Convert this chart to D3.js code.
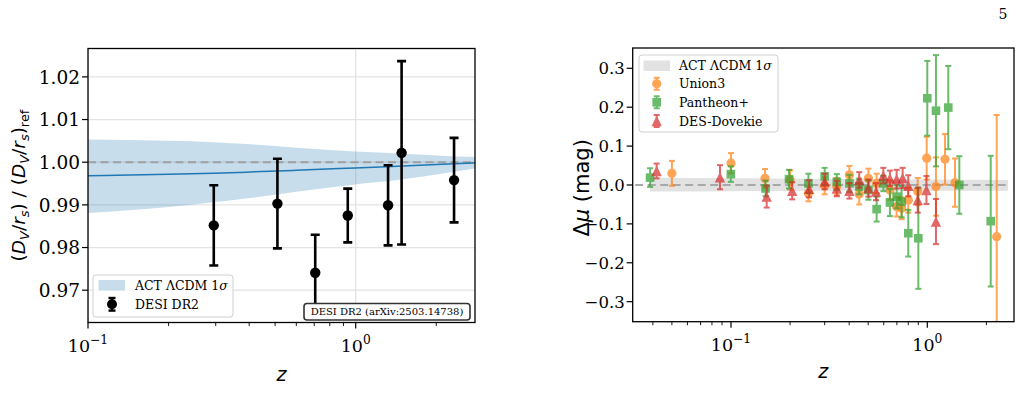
<!DOCTYPE html>
<html><head><meta charset="utf-8">
<script src="https://cdn.jsdelivr.net/npm/d3@7"></script>
<style>body{margin:0;background:#fff}svg{display:block}text{font-family:"DejaVu Serif";fill:#000}</style>
</head><body><svg id="c" width="1027" height="410"></svg>
<script>
// ---------- Left panel data (DESI DR2 BAO) ----------
const desiZ   = [0.295, 0.510, 0.706, 0.934, 1.321, 1.484, 2.330];
const desiVal = [0.9852, 0.9903, 0.9741, 0.9875, 0.9899, 1.0022, 0.9958];
const desiErr = [0.0094, 0.0105, 0.0089, 0.0063, 0.0094, 0.0215, 0.0099];
// ACT LCDM 1 sigma band (ratio)
const actZ    = [0.10, 0.20, 0.294, 0.403, 0.60, 0.994, 1.50, 2.00, 2.79];
const actMean = [0.99680, 0.99716, 0.99743, 0.99770, 0.99810, 0.99865, 0.99912, 0.99944, 0.99982];
const actLo   = [0.9881, 0.9895, 0.9906, 0.9916, 0.9931, 0.9948, 0.9960, 0.9971, 0.9985];
const actHi   = [1.0053, 1.0050, 1.0047, 1.0042, 1.0034, 1.0025, 1.0020, 1.0016, 1.0012];
const leftYTicks = [0.97, 0.98, 0.99, 1.00, 1.01, 1.02];
const leftXMajor = [0.1, 1];

// ---------- Right panel data (SN Hubble residuals) ----------
const u3Z   = [0.050, 0.100, 0.149, 0.200, 0.248, 0.300, 0.346, 0.401, 0.450, 0.501, 0.552, 0.645, 0.698, 0.740, 0.800, 0.894, 0.993, 1.107, 1.231, 1.384, 2.257];
const u3Mu  = [0.030, 0.056, 0.017, 0.013, -0.022, -0.002, -0.004, 0.026, -0.023, 0.017, 0.004, -0.013, -0.056, -0.060, -0.039, -0.017, 0.069, -0.004, 0.066, 0.006, -0.133];
const u3Err = [0.032, 0.026, 0.024, 0.025, 0.020, 0.022, 0.022, 0.023, 0.027, 0.025, 0.025, 0.025, 0.025, 0.028, 0.032, 0.035, 0.055, 0.075, 0.065, 0.062, 0.313];

const ppZ   = [0.0387, 0.0998, 0.150, 0.1975, 0.248, 0.300, 0.346, 0.401, 0.450, 0.501, 0.552, 0.597, 0.645, 0.698, 0.740, 0.800, 0.900, 1.000, 1.107, 1.279, 1.456, 2.104];
const ppMu  = [0.019, 0.028, -0.009, 0.015, 0.004, 0.022, 0.008, 0.004, -0.004, -0.013, -0.062, 0.004, -0.045, -0.030, -0.043, -0.124, -0.137, 0.223, 0.191, 0.199, 0.000, -0.093];
const ppErr = [0.024, 0.020, 0.020, 0.024, 0.025, 0.022, 0.020, 0.022, 0.020, 0.025, 0.032, 0.020, 0.035, 0.030, 0.040, 0.060, 0.130, 0.096, 0.143, 0.107, 0.074, 0.168];

const ddZ   = [0.0418, 0.0879, 0.152, 0.205, 0.250, 0.300, 0.346, 0.401, 0.450, 0.501, 0.548, 0.597, 0.645, 0.698, 0.749, 0.800, 0.894, 0.990, 1.107];
const ddMu  = [0.036, 0.020, -0.030, -0.015, -0.010, 0.009, -0.009, -0.015, 0.013, -0.008, -0.017, 0.024, 0.017, 0.015, 0.018, -0.002, -0.039, -0.013, -0.094];
const ddErr = [0.019, 0.031, 0.028, 0.022, 0.022, 0.020, 0.020, 0.020, 0.020, 0.022, 0.022, 0.020, 0.020, 0.024, 0.026, 0.027, 0.032, 0.036, 0.058];

const actSnZ  = [0.0387, 0.10, 0.50, 1.00, 2.58];
const actSnLo = [-0.017, -0.016, -0.015, -0.015, -0.015];
const actSnHi = [0.019, 0.017, 0.015, 0.014, 0.013];
const refLineZ = [0.0325, 2.58];
const rightYTicks = [-0.3, -0.2, -0.1, 0.0, 0.1, 0.2, 0.3];
const rightXMajor = [0.1, 1];

// ---------- helpers ----------
const svg = d3.select("#c");
const FS_YTICK_L = 18.5, FS_YTICK_R = 16.5, FS_XTICK = 17.5, FS_LEG = 12.5, FS_LAB = 18.5;
const C_BLUE = "#1f77b4", C_OR = "#ff7f0e", C_GR = "#2ca02c", C_RD = "#d62728";

function mathText(g, parts, fs) {
  let shift = 0;
  parts.forEach(([t, st]) => {
    const sp = g.append("tspan").text(t);
    let target = 0, size = fs;
    if (st === "s" || st === "S") { target = fs * 0.22; size = fs * 0.7; }
    if (st === "^") { target = -fs * 0.42; size = fs * 0.7; }
    sp.attr("font-size", size).attr("dy", target - shift);
    shift = target;
    if (st === "i" || st === "s") sp.attr("font-style", "italic");
  });
}

function logTicks(g, x, P, majors, fs) {
  const all = x.ticks();
  all.forEach(v => {
    const isMaj = majors.some(m => Math.abs(m - v) / m < 1e-6);
    const px = x(v);
    if (px < P.x0 - 0.5 || px > P.x1 + 0.5) return;
    g.append("line").attr("x1", px).attr("x2", px).attr("y1", P.y1).attr("y2", P.y1 + (isMaj ? 6 : 3.5))
      .attr("stroke", "#000").attr("stroke-width", isMaj ? 1.2 : 0.9);
    if (isMaj) {
      const e = Math.round(Math.log10(v));
      const t = g.append("text").attr("x", px).attr("y", P.y1 + 29).attr("text-anchor", "middle").attr("font-size", fs);
      t.append("tspan").text("10");
      t.append("tspan").text(e < 0 ? "\u2212" + (-e) : "" + e).attr("font-size", fs * 0.7).attr("dy", -fs * 0.45);
    }
  });
}

function yTicks(g, y, P, ticks, fmt, fs) {
  ticks.forEach(v => {
    const py = y(v);
    g.append("line").attr("x1", P.x0 - 6).attr("x2", P.x0).attr("y1", py).attr("y2", py).attr("stroke", "#000").attr("stroke-width", 1.2);
    g.append("text").attr("x", P.x0 - 8).attr("y", py).attr("dy", "0.36em").attr("text-anchor", "end").attr("font-size", fs).text(fmt(v));
  });
}

function marker(g, type, cx, cy, color, op) {
  if (type === "o") g.append("circle").attr("cx", cx).attr("cy", cy).attr("r", 4.6).attr("fill", color).attr("fill-opacity", op);
  else if (type === "s") g.append("rect").attr("x", cx - 4.3).attr("y", cy - 4.3).attr("width", 8.6).attr("height", 8.6).attr("fill", color).attr("fill-opacity", op);
  else if (type === "^") g.append("path").attr("d", `M${cx},${cy - 5.2}L${cx + 5.2},${cy + 5.2}L${cx - 5.2},${cy + 5.2}Z`).attr("fill", color).attr("fill-opacity", op);
}

function errorbars(g, xs, ys, es, x, y, opt) {
  xs.forEach((z, i) => {
    const px = x(z), py = y(ys[i]), t = y(ys[i] + es[i]), b = y(ys[i] - es[i]);
    const gg = g.append("g").attr("opacity", opt.op);
    gg.append("line").attr("x1", px).attr("x2", px).attr("y1", t).attr("y2", b).attr("stroke", opt.color).attr("stroke-width", opt.lw);
    [t, b].forEach(yy => gg.append("line").attr("x1", px - opt.cap).attr("x2", px + opt.cap).attr("y1", yy).attr("y2", yy).attr("stroke", opt.color).attr("stroke-width", opt.lw));
    if (opt.marker === "O") gg.append("circle").attr("cx", px).attr("cy", py).attr("r", opt.r).attr("fill", opt.color);
    else marker(gg, opt.marker, px, py, opt.color, 1);
  });
}

// ---------- Left panel ----------
const L = {x0: 88, x1: 475, y0: 48.5, y1: 322.5};
const xL = d3.scaleLog().domain([0.1, 2.79]).range([L.x0, L.x1]);
const yL = d3.scaleLinear().domain([0.96243, 1.02665]).range([L.y1, L.y0]);
const gL = svg.append("g");
const defs = svg.append("defs");
defs.append("clipPath").attr("id", "clipL").append("rect").attr("x", L.x0).attr("y", L.y0).attr("width", L.x1 - L.x0).attr("height", L.y1 - L.y0);
const pL = gL.append("g").attr("clip-path", "url(#clipL)");
leftYTicks.forEach(v => pL.append("line").attr("x1", L.x0).attr("x2", L.x1).attr("y1", yL(v)).attr("y2", yL(v)).attr("stroke", "#e3e3e3").attr("stroke-width", 1.3));
leftXMajor.forEach(v => pL.append("line").attr("x1", xL(v)).attr("x2", xL(v)).attr("y1", L.y0).attr("y2", L.y1).attr("stroke", "#e3e3e3").attr("stroke-width", 1.3));
const bandIdx = d3.range(actZ.length);
pL.append("path").datum(bandIdx)
  .attr("d", d3.area().x(i => xL(actZ[i])).y0(i => yL(actLo[i])).y1(i => yL(actHi[i])).curve(d3.curveMonotoneX))
  .attr("fill", C_BLUE).attr("fill-opacity", 0.25);
pL.append("line").attr("x1", L.x0).attr("x2", L.x1).attr("y1", yL(1)).attr("y2", yL(1))
  .attr("stroke", "#a0a0a0").attr("stroke-width", 2).attr("stroke-dasharray", "8,4.5");
pL.append("path").datum(bandIdx)
  .attr("d", d3.line().x(i => xL(actZ[i])).y(i => yL(actMean[i])).curve(d3.curveMonotoneX))
  .attr("fill", "none").attr("stroke", C_BLUE).attr("stroke-width", 1.5);
errorbars(pL, desiZ, desiVal, desiErr, xL, yL, {color: "#000", op: 1, lw: 2.6, cap: 4.5, marker: "O", r: 5.2});
const annW = 166, annH = 16.5;
const annX = L.x1 - 5 - annW, annY = L.y1 - 2.5 - annH;
gL.append("rect").attr("x", annX).attr("y", annY).attr("width", annW).attr("height", annH).attr("rx", 3)
  .attr("fill", "#fff").attr("stroke", "#333").attr("stroke-width", 1.6);
gL.append("text").attr("x", annX + annW / 2).attr("y", annY + annH / 2).attr("dy", "0.36em").attr("text-anchor", "middle")
  .attr("font-size", 10).text("DESI DR2 (arXiv:2503.14738)");
const lgL = gL.append("g");
lgL.append("rect").attr("x", 93).attr("y", 275).attr("width", 140).attr("height", 42).attr("rx", 3)
  .attr("fill", "#fff").attr("fill-opacity", 0.8).attr("stroke", "#d0d0d0").attr("stroke-width", 1);
lgL.append("rect").attr("x", 98.5).attr("y", 280).attr("width", 26.5).attr("height", 10.5).attr("fill", C_BLUE).attr("fill-opacity", 0.25);
const tL1 = lgL.append("text").attr("x", 135).attr("y", 285.3).attr("dy", "0.36em").attr("font-size", FS_LEG);
tL1.append("tspan").text("ACT \u039BCDM 1");
tL1.append("tspan").text("\u03C3").attr("font-style", "italic");
errorbars(lgL, [0], [0], [1], () => 112, v => 304.3 - v * 6.3, {color: "#000", op: 1, lw: 2.4, cap: 3.5, marker: "O", r: 5});
lgL.append("text").attr("x", 135).attr("y", 304.5).attr("dy", "0.36em").attr("font-size", FS_LEG).text("DESI DR2");
gL.append("rect").attr("x", L.x0).attr("y", L.y0).attr("width", L.x1 - L.x0).attr("height", L.y1 - L.y0).attr("fill", "none").attr("stroke", "#000").attr("stroke-width", 1.3);
yTicks(gL, yL, L, leftYTicks, d3.format(".2f"), FS_YTICK_L);
logTicks(gL, xL, L, leftXMajor, FS_XTICK);
const yLabL = gL.append("text").attr("transform", `translate(25,${(L.y0 + L.y1) / 2}) rotate(-90)`).attr("text-anchor", "middle")
  .style("font-family", "DejaVu Sans");
mathText(yLabL, [["(", ""], ["D", "i"], ["V", "s"], ["/", ""], ["r", "i"], ["s", "s"], [") / (", ""], ["D", "i"], ["V", "s"], ["/", ""], ["r", "i"], ["s", "s"], [")", ""], ["ref", "S"]], FS_LAB);
gL.append("text").attr("x", (L.x0 + L.x1) / 2).attr("y", 381).attr("text-anchor", "middle").style("font-family", "DejaVu Sans")
  .attr("font-style", "italic").attr("font-size", 19).text("z");

// ---------- Right panel ----------
const R = {x0: 632.7, x1: 1014, y0: 48, y1: 321.7};
const xR = d3.scaleLog().domain([Math.pow(10, -1.5007), Math.pow(10, 0.4417)]).range([R.x0, R.x1]);
const yR = d3.scaleLinear().domain([-0.3515, 0.3522]).range([R.y1, R.y0]);
const gR = svg.append("g");
defs.append("clipPath").attr("id", "clipR").append("rect").attr("x", R.x0).attr("y", R.y0).attr("width", R.x1 - R.x0).attr("height", R.y1 - R.y0);
const pR = gR.append("g").attr("clip-path", "url(#clipR)");
const snIdx = d3.range(actSnZ.length);
pR.append("path").datum(snIdx)
  .attr("d", d3.area().x(i => xR(actSnZ[i])).y0(i => yR(actSnLo[i])).y1(i => yR(actSnHi[i])).curve(d3.curveMonotoneX))
  .attr("fill", "#bfbfbf").attr("fill-opacity", 0.45);
pR.append("line").attr("x1", xR(refLineZ[0])).attr("x2", xR(refLineZ[1])).attr("y1", yR(0)).attr("y2", yR(0))
  .attr("stroke", "#a8a8a8").attr("stroke-width", 2.2).attr("stroke-dasharray", "8,4.5");
errorbars(pR, u3Z, u3Mu, u3Err, xR, yR, {color: C_OR, op: 0.7, lw: 2, cap: 3, marker: "o"});
errorbars(pR, ppZ, ppMu, ppErr, xR, yR, {color: C_GR, op: 0.7, lw: 2, cap: 3, marker: "s"});
errorbars(pR, ddZ, ddMu, ddErr, xR, yR, {color: C_RD, op: 0.7, lw: 2, cap: 3, marker: "^"});
const lgR = gR.append("g");
lgR.append("rect").attr("x", 639).attr("y", 55).attr("width", 139).attr("height", 77).attr("rx", 3)
  .attr("fill", "#fff").attr("fill-opacity", 0.8).attr("stroke", "#d0d0d0").attr("stroke-width", 1);
lgR.append("rect").attr("x", 643.5).attr("y", 60.5).attr("width", 26.5).attr("height", 10.5).attr("fill", "#bfbfbf").attr("fill-opacity", 0.45);
const tR1 = lgR.append("text").attr("x", 679).attr("y", 65.5).attr("dy", "0.36em").attr("font-size", FS_LEG);
tR1.append("tspan").text("ACT \u039BCDM 1");
tR1.append("tspan").text("\u03C3").attr("font-style", "italic");
const legSeries = [["Union3", C_OR, "o", 83.8], ["Pantheon+", C_GR, "s", 102.3], ["DES-Dovekie", C_RD, "^", 121]];
legSeries.forEach(([name, col, mk, yy]) => {
  errorbars(lgR, [0], [0], [1], () => 656.7, v => yy - v * 6, {color: col, op: 0.7, lw: 2, cap: 3, marker: mk});
  lgR.append("text").attr("x", 679).attr("y", yy).attr("dy", "0.36em").attr("font-size", FS_LEG).text(name);
});
gR.append("rect").attr("x", R.x0).attr("y", R.y0).attr("width", R.x1 - R.x0).attr("height", R.y1 - R.y0).attr("fill", "none").attr("stroke", "#000").attr("stroke-width", 1.3);
yTicks(gR, yR, R, rightYTicks, d3.format(".1f"), FS_YTICK_R);
logTicks(gR, xR, R, rightXMajor, FS_XTICK);
const yLabR = gR.append("text").attr("transform", `translate(589,${(R.y0 + R.y1) / 2 + 3}) rotate(-90)`).attr("text-anchor", "middle")
  .style("font-family", "DejaVu Sans");
mathText(yLabR, [["\u0394", ""], ["\u03BC", "i"], [" (mag)", ""]], 21);
gR.append("text").attr("x", (R.x0 + R.x1) / 2).attr("y", 378).attr("text-anchor", "middle").style("font-family", "DejaVu Sans")
  .attr("font-style", "italic").attr("font-size", 19).text("z");

svg.append("text").attr("x", 1003).attr("y", 19).attr("font-size", 14).attr("text-anchor", "middle").text("5");
</script></body></html>
